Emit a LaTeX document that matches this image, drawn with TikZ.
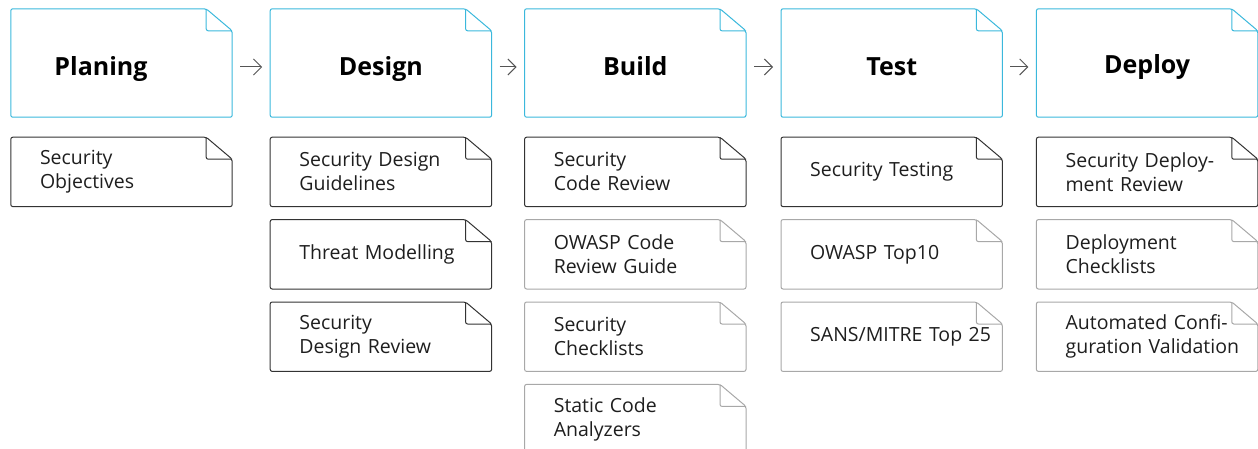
\documentclass[tikz,border=0pt]{standalone}
\usepackage{fontspec}
\setmainfont{Open Sans}
\usepackage{xcolor}
\definecolor{stageCyan}{HTML}{3BB8DC}
\definecolor{taskDark}{HTML}{333333}
\definecolor{taskGray}{HTML}{A8A8A8}
\definecolor{flowGray}{HTML}{555555}
\definecolor{darkText}{HTML}{1E1E1E}
\usepackage{tikz}
\usetikzlibrary{
    arrows.meta,
    positioning
}
\tikzset{
    % Stage boxes on the top row
    stage/.style={
        rectangle,
        minimum width=221pt,
        minimum height=108pt,
        inner sep=0pt,
        text height=26pt,
        text depth=0pt,
        font=\bfseries\fontsize{25}{30}\selectfont,
        text=black,
    },
    % Activity boxes below each stage
    task/.style={
        rectangle,
        minimum width=221pt,
        minimum height=69pt,
        text width=163pt,
        inner xsep=29pt,
        inner ysep=0pt,
        align=left,
        font=\fontsize{19.5}{24}\selectfont,
        text=darkText,
    },
    % Folded corner outline
    ear line/.style={
        rounded corners=2pt,
        line width=1pt,
    },
    % Thin arrow between stages
    flow/.style={
        -{Straight Barb[length=8pt, width=16pt]},
        line width=1pt,
        draw=flowGray,
        shorten >=8pt,
        shorten <=8pt,
    },
}

\begin{document}
\begin{tikzpicture}[x=1pt, y=-1pt]
    \clip (0,0) rectangle (1258,449);

    \node (plan) [stage] at (121.5,63) {Planing\hspace*{41pt}};
    \node (design) [stage, right=38pt of plan] {Design};
    \node (build) [stage, right=33pt of design] {Build};
    \node (test) [stage, right=35pt of build] {Test};
    \node (deploy) [stage, right=34pt of test, text height=22pt] {Deploy};

    \node (planA) [task, below=20pt of plan] {Security\\Objectives};

    \node (designA) [task, below=20pt of design] {Security Design\\Guidelines};
    \node (designB) [task, below=13pt of designA] {Threat Modelling};
    \node (designC) [task, below=13pt of designB] {Security\\Design Review};

    \node (buildA) [task, below=20pt of build] {Security\\Code Review};
    \node (buildB) [task, below=13pt of buildA] {OWASP Code\\Review Guide};
    \node (buildC) [task, below=13pt of buildB] {Security\\Checklists};
    \node (buildD) [task, below=13pt of buildC] {Static Code\\Analyzers};

    \node (testA) [task, below=20pt of test] {Security Testing};
    \node (testB) [task, below=13pt of testA] {OWASP Top10};
    \node (testC) [task, below=13pt of testB] {\mbox{SANS/MITRE Top 25}};

    \node (deployA) [task, below=20pt of deploy] {Security Deploy-\\ment Review};
    \node (deployB) [task, below=13pt of deployA] {Deployment\\Checklists};
    \node (deployC) [task, below=13pt of deployB] {\mbox{Automated Confi-}\\\mbox{guration Validation}};

    % outlines with the folded corner
    \foreach \n/\c in {plan/stageCyan, design/stageCyan, build/stageCyan,
        test/stageCyan, deploy/stageCyan, planA/taskDark, designA/taskDark,
        designB/taskDark, designC/taskDark, buildA/taskDark, testA/taskDark,
        deployA/taskDark, buildB/taskGray, buildC/taskGray, buildD/taskGray,
        testB/taskGray, testC/taskGray, deployB/taskGray, deployC/taskGray} {
        \draw[ear line, draw=\c] (\n.north west) -- ([xshift=-26pt]\n.north east)
            -- ([yshift=-22pt]\n.north east) -- (\n.south east)
            -- (\n.south west) -- cycle;
        \draw[ear line, draw=\c] ([xshift=-26pt]\n.north east)
            |- ([yshift=-22pt]\n.north east);
    }

    \draw [flow] ([yshift=-4pt]plan.east) -- ([yshift=-4pt]design.west);
    \draw [flow] ([yshift=-4pt]design.east) -- ([yshift=-4pt]build.west);
    \draw [flow] ([yshift=-4pt]build.east) -- ([yshift=-4pt]test.west);
    \draw [flow] ([yshift=-4pt]test.east) -- ([yshift=-4pt]deploy.west);
\end{tikzpicture}
\end{document}
